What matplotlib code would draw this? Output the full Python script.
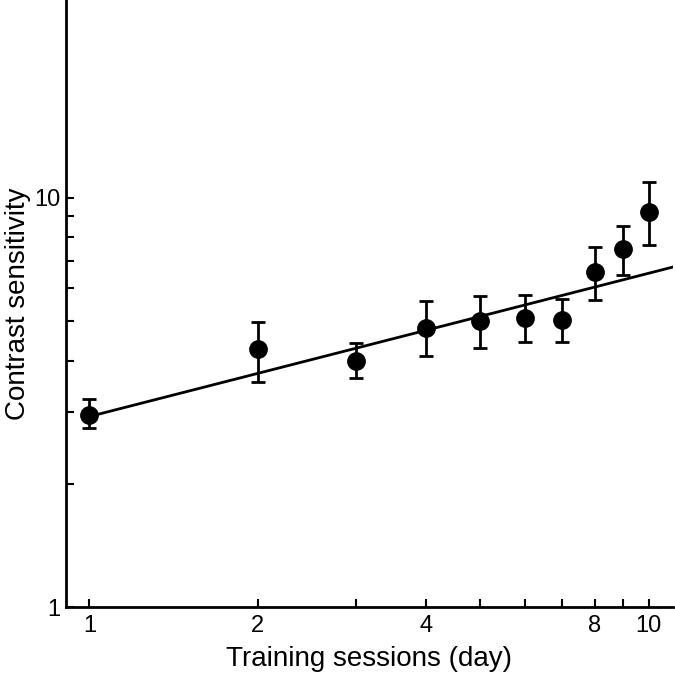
import numpy as np
import matplotlib.pyplot as plt
from matplotlib.ticker import FixedLocator, NullFormatter

plt.rcParams['font.family'] = ['Liberation Sans', 'DejaVu Sans']

### DATA ###
days = [1, 2, 3, 4, 5, 6, 7, 8, 9, 10]
sensitivity = [2.95, 4.26, 3.99, 4.80, 5.00, 5.08, 5.02, 6.59, 7.50, 9.24]
err_upper = [3.22, 4.97, 4.41, 5.59, 5.75, 5.78, 5.65, 7.59, 8.54, 10.9]
err_lower = [2.73, 3.54, 3.62, 4.10, 4.29, 4.43, 4.43, 5.62, 6.48, 7.67]

# power-law fit  y = a * x**b
fit_a = 2.92
fit_b = 0.35
fit_x = [1.0, 11.05]

x_tick_labels = [1, 2, 4, 8, 10]
y_minor = [2, 3, 4, 5, 6, 7, 8, 9]

### PLOT ###
fig = plt.figure(figsize=(6.75, 6.73), dpi=100)
ax = fig.add_axes([66/675, 66/673, 607/675, 607/673])

sens = np.array(sensitivity)
yerr = [sens - np.array(err_lower), np.array(err_upper) - sens]

fx = np.array(fit_x)
ax.plot(fx, fit_a * fx**fit_b, 'k-', lw=2.0, zorder=2)
ax.errorbar(days, sens, yerr=yerr, fmt='o', color='black', ms=12.5,
            elinewidth=2, capsize=5, capthick=2, zorder=3)

ax.set_xscale('log')
ax.set_yscale('log')
ax.set_xlim(0.908, 11.05)
ax.set_ylim(1, 30.4)

ax.spines['top'].set_visible(False)
ax.spines['right'].set_visible(False)
ax.spines['left'].set_linewidth(2)
ax.spines['bottom'].set_linewidth(2)

ax.xaxis.set_major_locator(FixedLocator(days))
ax.xaxis.set_minor_locator(FixedLocator([]))
ax.set_xticklabels([str(d) if d in x_tick_labels else '' for d in days])
ax.yaxis.set_major_locator(FixedLocator([1, 10]))
ax.yaxis.set_minor_locator(FixedLocator(y_minor))
ax.yaxis.set_minor_formatter(NullFormatter())
ax.set_yticklabels(['1', '10'])

ax.tick_params(axis='both', which='both', direction='in', length=6, width=1.5,
               labelsize=17)
ax.tick_params(axis='x', pad=6)
ax.tick_params(axis='y', pad=4)

ax.set_xlabel('Training sessions (day)', fontsize=20, labelpad=6)
ax.set_ylabel('Contrast sensitivity', fontsize=20, labelpad=2)

plt.savefig('out.png', dpi=100)
